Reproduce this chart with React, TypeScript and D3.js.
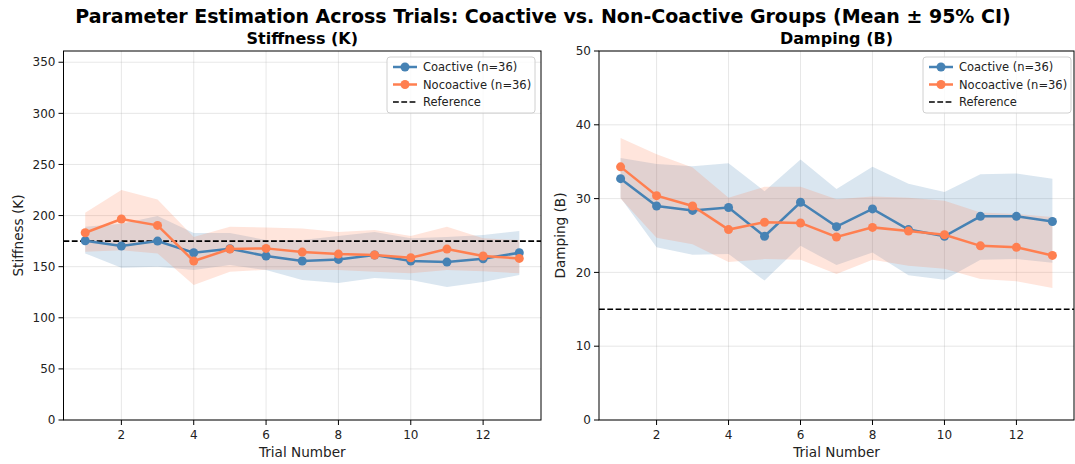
import * as d3 from 'd3'

const trials = [1, 2, 3, 4, 5, 6, 7, 8, 9, 10, 11, 12, 13]

// Stiffness (K)
const kCoMean = [175.4, 170.2, 175, 163.6, 167.5, 160.4, 155.5, 157.1, 161.4, 155.5, 154.5, 157.8, 163.6]
const kCoLow = [163, 149, 150, 146.7, 151.6, 146.7, 137, 134, 139, 137, 130, 135, 141.8]
const kCoHigh = [189, 192, 199.5, 183, 183, 176, 176, 180, 184, 177.7, 179, 181, 184.8]
const kNoMean = [183.2, 196.6, 190.4, 155.5, 167.2, 167.9, 164.3, 162.3, 161.4, 158.7, 167.2, 160.4, 158.1]
const kNoLow = [164.6, 166, 163, 132, 145, 147, 146.7, 146.7, 145, 143.5, 146.7, 145.5, 143.5]
const kNoHigh = [202.7, 225, 215.8, 179, 189, 188.4, 187.4, 184, 185.8, 180, 189, 177.7, 176]

// Damping (B)
const bCoMean = [32.7, 29.0, 28.4, 28.8, 24.9, 29.5, 26.2, 28.6, 25.8, 24.9, 27.6, 27.6, 26.9]
const bCoLow = [30.1, 23.4, 22.4, 22.5, 18.9, 23.6, 21.0, 22.7, 19.6, 19.0, 21.7, 21.8, 21.3]
const bCoHigh = [35.5, 34.7, 34.4, 34.8, 31.0, 35.3, 31.3, 34.3, 32.0, 30.9, 33.3, 33.4, 32.7]
const bNoMean = [34.3, 30.4, 29.0, 25.8, 26.8, 26.7, 24.8, 26.1, 25.6, 25.1, 23.6, 23.4, 22.3]
const bNoLow = [30.0, 24.7, 23.8, 21.4, 21.8, 21.7, 19.8, 21.7, 20.9, 20.5, 19.1, 18.8, 17.9]
const bNoHigh = [38.2, 36.0, 34.2, 30.1, 31.6, 31.6, 29.9, 30.3, 30.1, 29.7, 28.1, 27.9, 27.5]

const kTicks = [0, 50, 100, 150, 200, 250, 300, 350]
const bTicks = [0, 10, 20, 30, 40, 50]
const xTicks = [2, 4, 6, 8, 10, 12]
const kRef = 175
const bRef = 15

const BLUE = '#4682b4'
const ORANGE = '#ff7f50'
const FONT = '"DejaVu Sans", sans-serif'

type Series = { mean: number[]; low: number[]; high: number[]; color: string; label: string }

function Panel({ left, right, title, ylabel, ylabelX, yDomain, yTicks, series, refValue, legendX }: {
  left: number; right: number; title: string; ylabel: string; ylabelX: number
  yDomain: [number, number]; yTicks: number[]; series: Series[]; refValue: number; legendX: number
}) {
  const top = 51
  const bottom = 420
  const x = d3.scaleLinear().domain([0.4, 13.6]).range([left, right])
  const y = d3.scaleLinear().domain(yDomain).range([bottom, top])

  const line = d3.line<number>().x((_, i) => x(trials[i])).y(d => y(d))

  return (
    <g>
      {/* grid */}
      {xTicks.map(t => (
        <line key={'gx' + t} x1={x(t)} x2={x(t)} y1={top} y2={bottom} stroke="#b0b0b0" strokeOpacity={0.3} strokeWidth={1} />
      ))}
      {yTicks.map(t => (
        <line key={'gy' + t} x1={left} x2={right} y1={y(t)} y2={y(t)} stroke="#b0b0b0" strokeOpacity={0.3} strokeWidth={1} />
      ))}

      {/* CI bands */}
      {series.map(s => {
        const area = d3.area<number>()
          .x((_, i) => x(trials[i]))
          .y0((_, i) => y(s.low[i]))
          .y1((_, i) => y(s.high[i]))
        return <path key={'a' + s.label} d={area(s.mean) || ''} fill={s.color} fillOpacity={0.2} />
      })}

      {/* reference */}
      <line x1={left} x2={right} y1={y(refValue)} y2={y(refValue)} stroke="#000" strokeWidth={1.6} strokeDasharray="5.8,2.5" />

      {/* lines */}
      {series.map(s => (
        <g key={'l' + s.label}>
          <path d={line(s.mean) || ''} fill="none" stroke={s.color} strokeWidth={2.5} />
          {s.mean.map((v, i) => (
            <circle key={i} cx={x(trials[i])} cy={y(v)} r={4.5} fill={s.color} />
          ))}
        </g>
      ))}

      {/* spines */}
      <rect x={left} y={top} width={right - left} height={bottom - top} fill="none" stroke="#000" strokeWidth={1} />

      {/* x ticks */}
      {xTicks.map(t => (
        <g key={'xt' + t} transform={`translate(${x(t)},${bottom})`}>
          <line y1={0} y2={5} stroke="#000" />
          <text y={19} textAnchor="middle" fontSize={12} fontFamily={FONT} fill="#222">{t}</text>
        </g>
      ))}
      {/* y ticks */}
      {yTicks.map(t => (
        <g key={'yt' + t} transform={`translate(${left},${y(t)})`}>
          <line x1={0} x2={-5} stroke="#000" />
          <text x={-8} dy="0.35em" textAnchor="end" fontSize={12} fontFamily={FONT} fill="#222">{t}</text>
        </g>
      ))}

      <text x={(left + right) / 2} y={457} textAnchor="middle" fontSize={13.6} fontFamily={FONT} fill="#222">Trial Number</text>
      <text transform={`translate(${ylabelX},${(top + bottom) / 2}) rotate(-90)`} textAnchor="middle" fontSize={13.6} fontFamily={FONT} fill="#222">{ylabel}</text>
      <text x={(left + right) / 2} y={44} textAnchor="middle" fontSize={16} fontWeight="bold" fontFamily={FONT} fill="#000">{title}</text>

      {/* legend */}
      <g transform={`translate(${legendX},57)`}>
        <rect x={0} y={0} width={148} height={56} rx={3} fill="#fff" fillOpacity={0.8} stroke="#d0d0d0" />
        {series.map((s, i) => (
          <g key={'lg' + s.label} transform={`translate(0,${10 + i * 17.5})`}>
            <line x1={6} x2={30} y1={0} y2={0} stroke={s.color} strokeWidth={2.5} />
            <circle cx={18} cy={0} r={4.5} fill={s.color} />
            <text x={36} dy="0.35em" fontSize={11.5} fontFamily={FONT} fill="#222">{s.label}</text>
          </g>
        ))}
        <g transform={`translate(0,${10 + 2 * 17.5})`}>
          <line x1={6} x2={30} y1={0} y2={0} stroke="#000" strokeWidth={1.6} strokeDasharray="5.8,2.5" />
          <text x={36} dy="0.35em" fontSize={11.5} fontFamily={FONT} fill="#222">Reference</text>
        </g>
      </g>
    </g>
  )
}

export default function App() {
  const kSeries: Series[] = [
    { mean: kCoMean, low: kCoLow, high: kCoHigh, color: BLUE, label: 'Coactive (n=36)' },
    { mean: kNoMean, low: kNoLow, high: kNoHigh, color: ORANGE, label: 'Nocoactive (n=36)' },
  ]
  const bSeries: Series[] = [
    { mean: bCoMean, low: bCoLow, high: bCoHigh, color: BLUE, label: 'Coactive (n=36)' },
    { mean: bNoMean, low: bNoLow, high: bNoHigh, color: ORANGE, label: 'Nocoactive (n=36)' },
  ]
  return (
    <svg width={1075} height={464} style={{ position: 'absolute', left: 0, top: 0, background: '#fff' }}>
      <text x={543} y={23} textAnchor="middle" fontSize={19} fontWeight="bold" fontFamily={FONT} fill="#000">
        Parameter Estimation Across Trials: Coactive vs. Non-Coactive Groups (Mean ± 95% CI)
      </text>
      <Panel left={63.5} right={541} title="Stiffness (K)" ylabel="Stiffness (K)" ylabelX={23} yDomain={[0, 361]} yTicks={kTicks}
        series={kSeries} refValue={kRef} legendX={387} />
      <Panel left={599} right={1074} title="Damping (B)" ylabel="Damping (B)" ylabelX={565} yDomain={[0, 50]} yTicks={bTicks}
        series={bSeries} refValue={bRef} legendX={923} />
    </svg>
  )
}
